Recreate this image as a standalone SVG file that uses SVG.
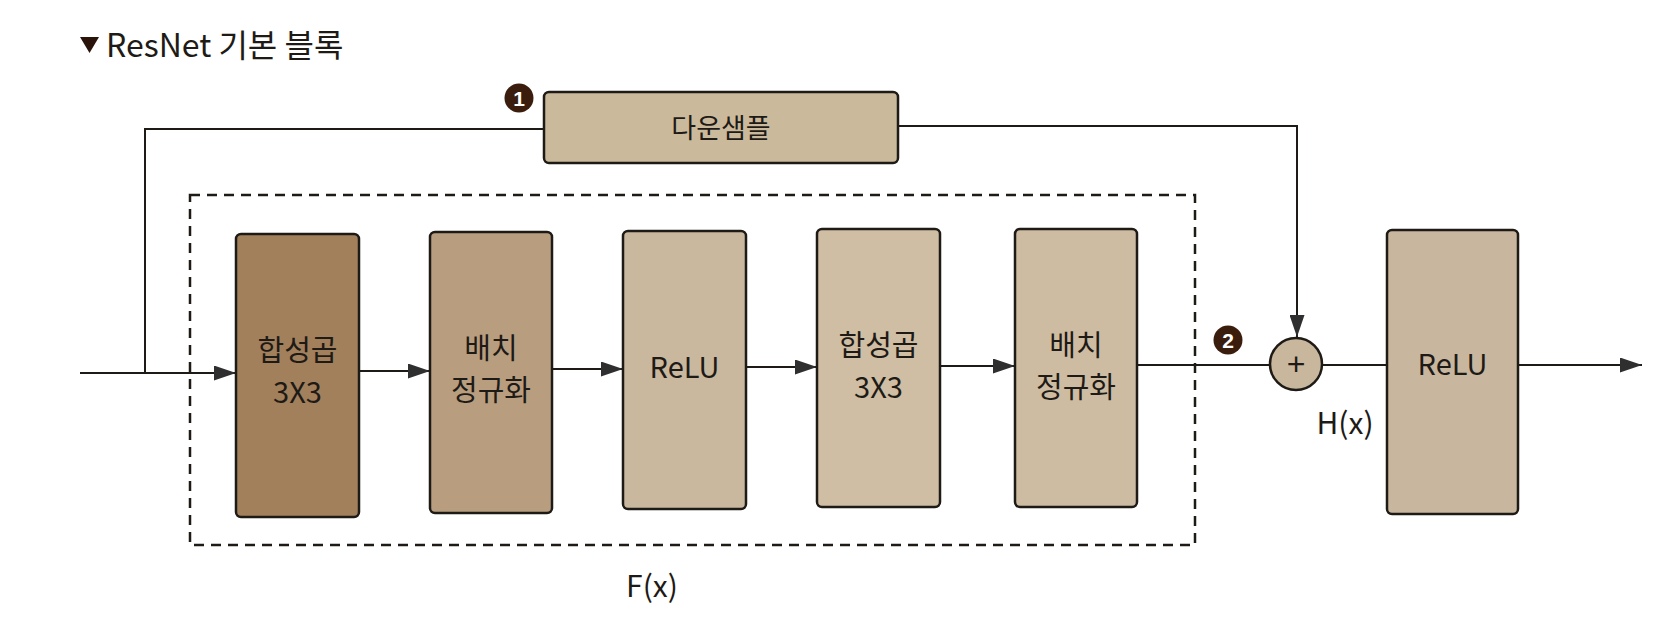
<svg xmlns="http://www.w3.org/2000/svg" width="1670" height="643" viewBox="0 0 1670 643">
<defs>
<style>
.box{stroke:#1e1a16;stroke-width:2.5}
.t{font-family:"Noto Sans CJK KR","Noto Sans",sans-serif;fill:#1e1a16;text-anchor:middle}
.lbl{font-size:29px}
.ln{fill:none;stroke:#1e1a16;stroke-width:2}
.dash{fill:none;stroke:#1e1a16;stroke-width:2.5;stroke-dasharray:10 7}
.badge{fill:#3b1d0e}
.bt{font-family:"Liberation Sans",Arial,sans-serif;font-weight:bold;font-size:21px;fill:#fff;text-anchor:middle}
</style>
<marker id="ah" viewBox="0 0 22 15" refX="22" refY="7.5" markerWidth="22" markerHeight="15" markerUnits="userSpaceOnUse" orient="auto">
<path d="M0,0 L22,7.5 L0,15 Z" fill="#2f2f2f"/>
</marker>
</defs>
<rect width="1670" height="643" fill="#ffffff"/>

<g id="title">
<path d="M80,37 L99,37 L89.5,53 Z" fill="#2a140a"/>
<text class="t" x="106" y="57" style="text-anchor:start;font-size:32px">ResNet 기본 블록</text>
</g>

<g id="connectors">
<path class="ln" d="M80,373 H236" marker-end="url(#ah)"/>
<path class="ln" d="M145,373 V129 H544"/>
<path class="ln" d="M898,126 H1297 V337" marker-end="url(#ah)"/>
<path class="ln" d="M359,371 H430" marker-end="url(#ah)"/>
<path class="ln" d="M552,369 H623" marker-end="url(#ah)"/>
<path class="ln" d="M746,367 H817" marker-end="url(#ah)"/>
<path class="ln" d="M940,366 H1015" marker-end="url(#ah)"/>
<path class="ln" d="M1137,365 H1270"/>
<path class="ln" d="M1322,365 H1387"/>
<path class="ln" d="M1518,365 H1642" marker-end="url(#ah)"/>
</g>

<g id="fx_group">
<rect class="dash" x="190" y="195" width="1005" height="350"/>
<text class="t" x="652" y="597" style="font-size:30px">F(x)</text>
</g>

<g id="downsample">
<rect class="box" x="544" y="92" width="354" height="71" rx="5" fill="#cbb99c"/>
<text class="t" x="721" y="138" style="font-size:27px">다운샘플</text>
</g>

<g id="badge1">
<circle class="badge" cx="519" cy="98" r="14.5"/>
<text class="bt" x="519" y="105.5">1</text>
</g>

<g id="conv1">
<rect class="box" x="236" y="234" width="123" height="283" rx="5" fill="#a2805c"/>
<text class="t lbl" x="297.5" y="361">합성곱</text>
<text class="t lbl" x="297.5" y="403">3X3</text>
</g>

<g id="bn1">
<rect class="box" x="430" y="232" width="122" height="281" rx="5" fill="#b89e7f"/>
<text class="t lbl" x="491" y="359">배치</text>
<text class="t lbl" x="491" y="401">정규화</text>
</g>

<g id="relu1">
<rect class="box" x="623" y="231" width="123" height="278" rx="5" fill="#c9b79e"/>
<text class="t lbl" x="684.5" y="378">ReLU</text>
</g>

<g id="conv2">
<rect class="box" x="817" y="229" width="123" height="278" rx="5" fill="#cfbea3"/>
<text class="t lbl" x="878.5" y="356">합성곱</text>
<text class="t lbl" x="878.5" y="398">3X3</text>
</g>

<g id="bn2">
<rect class="box" x="1015" y="229" width="122" height="278" rx="5" fill="#cdbca1"/>
<text class="t lbl" x="1076" y="356">배치</text>
<text class="t lbl" x="1076" y="398">정규화</text>
</g>

<g id="badge2">
<circle class="badge" cx="1228" cy="340" r="14.5"/>
<text class="bt" x="1228" y="347.5">2</text>
</g>

<g id="add">
<circle class="box" cx="1296" cy="364" r="26" fill="#c8b69d"/>
<text x="1296" y="375" style="font-family:'Liberation Sans',Arial,sans-serif;font-size:32px;fill:#1e1a16;text-anchor:middle">+</text>
<text class="t" x="1345" y="434" style="font-size:30px">H(x)</text>
</g>

<g id="relu2">
<rect class="box" x="1387" y="230" width="131" height="284" rx="5" fill="#c8b69e"/>
<text class="t lbl" x="1452.5" y="375">ReLU</text>
</g>
</svg>
